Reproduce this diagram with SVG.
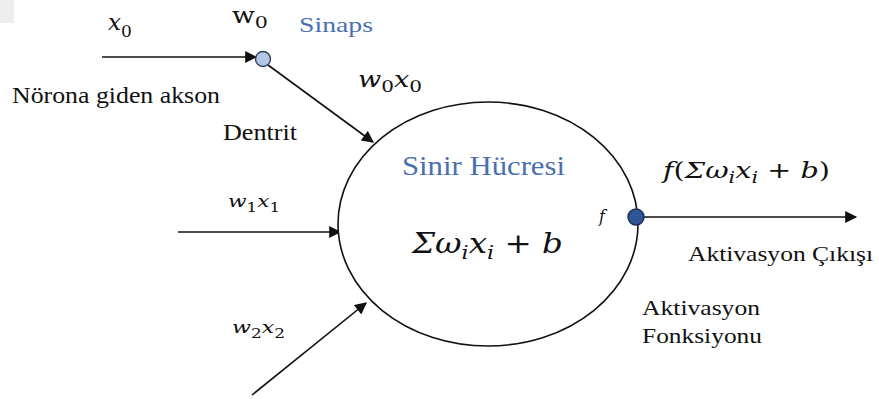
<svg xmlns="http://www.w3.org/2000/svg" width="879" height="399" viewBox="0 0 879 399">
<defs>
<marker id="ah" viewBox="0 0 10 10" refX="9" refY="5" markerWidth="14" markerHeight="12" markerUnits="userSpaceOnUse" orient="auto">
<path d="M0,0 L10,5 L0,10 z" fill="#111"/>
</marker>
</defs>
<rect x="0" y="0" width="14" height="23" fill="#eeeeee"/>
<g id="connectors" stroke="#111" stroke-width="1.6" fill="none">
<line x1="102" y1="57" x2="256" y2="57" marker-end="url(#ah)"/>
<line x1="268" y1="65" x2="373" y2="142" marker-end="url(#ah)"/>
<line x1="178" y1="232" x2="340" y2="232" marker-end="url(#ah)"/>
<line x1="252" y1="395" x2="366" y2="303" marker-end="url(#ah)"/>
<line x1="644" y1="217" x2="856" y2="217" marker-end="url(#ah)"/>
</g>
<g id="neuron">
<ellipse cx="488" cy="224" rx="150" ry="122" fill="#fff" stroke="#111" stroke-width="1.6"/>
<text x="402" y="175" font-family="Liberation Serif" font-size="27" fill="#4a6fb0" textLength="163" lengthAdjust="spacingAndGlyphs">Sinir Hücresi</text>
<text x="412" y="253" font-family="DejaVu Serif" font-style="italic" font-size="28" fill="#111" textLength="151" lengthAdjust="spacingAndGlyphs">Σω<tspan font-size="19" dy="6">i</tspan><tspan dy="-6">x</tspan><tspan font-size="19" dy="6">i</tspan><tspan dy="-6" font-style="normal"> + </tspan>b</text>
<text x="599" y="222" font-family="DejaVu Serif" font-style="italic" font-size="16" fill="#111">f</text>
</g>
<g id="synapse">
<circle cx="263" cy="59" r="7.5" fill="#b4c7e7" stroke="#2f3f5f" stroke-width="1.4"/>
</g>
<g id="activation">
<circle cx="636" cy="217" r="8" fill="#2f5597" stroke="#1f2f4f" stroke-width="1.4"/>
</g>
<g id="labels" font-family="Liberation Serif" fill="#111">
<text x="108" y="30" font-family="DejaVu Serif" font-style="italic" font-size="23">x<tspan font-size="17" dy="7" font-style="normal">0</tspan></text>
<text x="232" y="23" font-family="DejaVu Serif" font-size="22" textLength="36" lengthAdjust="spacingAndGlyphs">w<tspan font-size="17" dy="5">0</tspan></text>
<text x="299" y="32" font-size="22" fill="#4a6fb0" textLength="74" lengthAdjust="spacingAndGlyphs">Sinaps</text>
<text x="358" y="87" font-family="DejaVu Serif" font-style="italic" font-size="23" textLength="64" lengthAdjust="spacingAndGlyphs">w<tspan font-size="17" dy="5" font-style="normal">0</tspan><tspan dy="-5">x</tspan><tspan font-size="17" dy="5" font-style="normal">0</tspan></text>
<text x="12" y="103" font-size="23" textLength="208" lengthAdjust="spacingAndGlyphs">Nörona giden akson</text>
<text x="223" y="140" font-size="23" textLength="74" lengthAdjust="spacingAndGlyphs">Dentrit</text>
<text x="228" y="207" font-family="DejaVu Serif" font-style="italic" font-size="17" textLength="52" lengthAdjust="spacingAndGlyphs">w<tspan font-size="13" dy="5" font-style="normal">1</tspan><tspan dy="-5">x</tspan><tspan font-size="13" dy="5" font-style="normal">1</tspan></text>
<text x="232" y="333" font-family="DejaVu Serif" font-style="italic" font-size="17" textLength="53" lengthAdjust="spacingAndGlyphs">w<tspan font-size="13" dy="5" font-style="normal">2</tspan><tspan dy="-5">x</tspan><tspan font-size="13" dy="5" font-style="normal">2</tspan></text>
<text x="663" y="178" font-family="DejaVu Serif" font-style="italic" font-size="22" textLength="167" lengthAdjust="spacingAndGlyphs">f<tspan font-style="normal">(</tspan>Σω<tspan font-size="16" dy="5">i</tspan><tspan dy="-5">x</tspan><tspan font-size="16" dy="5">i</tspan><tspan dy="-5" font-style="normal"> + </tspan>b<tspan font-style="normal">)</tspan></text>
<text x="688" y="261" font-size="22" textLength="185" lengthAdjust="spacingAndGlyphs">Aktivasyon Çıkışı</text>
<text x="642" y="315" font-size="22" textLength="118" lengthAdjust="spacingAndGlyphs">Aktivasyon</text>
<text x="642" y="343" font-size="22" textLength="120" lengthAdjust="spacingAndGlyphs">Fonksiyonu</text>
</g>
</svg>
